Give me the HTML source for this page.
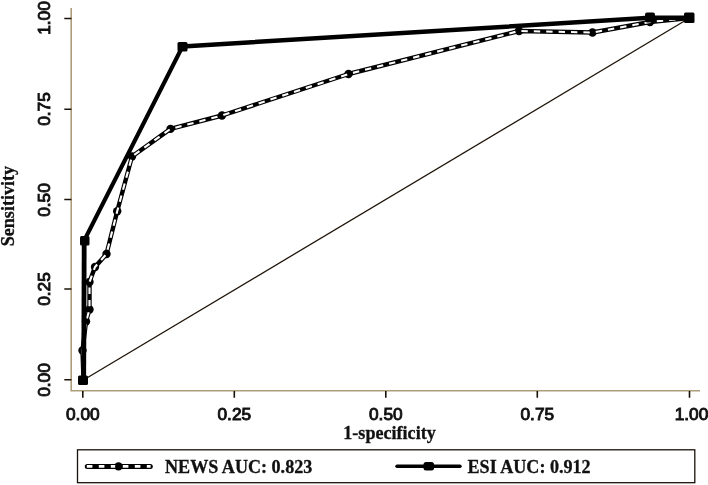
<!DOCTYPE html>
<html><head><meta charset="utf-8">
<style>
html,body{margin:0;padding:0;background:#fff;}
body{width:708px;height:485px;overflow:hidden;}
svg{display:block;}
.tick{font-family:"Liberation Sans",sans-serif;font-size:17.3px;fill:#111;stroke:#111;stroke-width:0.95px;}
.lab{font-family:"Liberation Serif",serif;font-weight:bold;font-size:18.1px;fill:#111;stroke:#111;stroke-width:0.3px;}
.leg{font-family:"Liberation Serif",serif;font-weight:bold;font-size:18.1px;fill:#111;stroke:#111;stroke-width:0.3px;}
</style></head><body>
<svg width="708" height="485" viewBox="0 0 708 485">
<rect width="708" height="485" fill="#fff"/>
<!-- axes -->
<g stroke="#ad9d7b" stroke-width="1.6" fill="none">
<path d="M71.2 8V390.7H700"/>
</g>
<g stroke="#1a1208" stroke-width="1.6">
<path d="M64.3 18.5H71.4M64.3 109.3H71.4M64.3 199.5H71.4M64.3 289H71.4M64.3 379.8H71.4"/>
<path d="M82.8 391V397.8M234.3 391V397.8M385.8 391V397.8M537.3 391V397.8M689.5 391V397.8"/>
</g>
<!-- diagonal -->
<path d="M83.5 380L689.5 18" stroke="#1e1408" stroke-width="1.3" fill="none"/>
<!-- NEWS -->
<g fill="none" stroke-linejoin="round" stroke-linecap="butt">
<path id="news" d="M83.5 380L82.5 350.5L86 321.5L89.5 309.5L89.5 282L95 267L106.5 254L117.2 211.3L132 156.5L170.5 128.9L222 115.5L348.5 74L519 31L592.5 32.5L650 22L689 18" stroke="#000" stroke-width="4.4"/>
<g fill="#000" stroke="none">
<circle cx="82.5" cy="350.5" r="4.2"/><circle cx="86" cy="321.5" r="4.2"/><circle cx="89.5" cy="309.5" r="4.2"/><circle cx="89.5" cy="282" r="4.2"/><circle cx="95" cy="267" r="4.2"/><circle cx="106.5" cy="254" r="4.2"/><circle cx="117.2" cy="211.3" r="4.2"/><circle cx="132" cy="156.5" r="4.2"/><circle cx="170.5" cy="128.9" r="4.2"/><circle cx="222" cy="115.5" r="4.2"/><circle cx="348.5" cy="74" r="4.2"/><circle cx="519" cy="31" r="4.2"/><circle cx="592.5" cy="32.5" r="4.2"/><circle cx="650" cy="22" r="4.2"/>
</g>
<path d="M83.5 380L82.5 350.5L86 321.5L89.5 309.5L89.5 282L95 267L106.5 254L117.2 211.3L132 156.5L170.5 128.9L222 115.5L348.5 74L519 31L592.5 32.5L650 22L689 18" stroke="#fff" stroke-width="2.1" stroke-dasharray="6.4 6"/>
</g>
<!-- ESI -->
<path d="M83.7 380L84.2 240.5" stroke="#000" stroke-width="4.8" fill="none"/>
<path d="M84.2 240.5L182.5 46.5" stroke="#000" stroke-width="4.1" fill="none" stroke-linecap="round"/>
<path d="M182.5 46.5L650 17.8L689.5 17.7" stroke="#000" stroke-width="4.5" fill="none" stroke-linejoin="round"/>
<g fill="#000">
<rect x="78" y="375.5" width="10" height="9.5" rx="1.5"/>
<rect x="80" y="236" width="9.5" height="9.5" rx="1.5"/>
<rect x="177.5" y="42" width="10" height="9.5" rx="1.5"/>
<rect x="645" y="12.5" width="10" height="10" rx="2"/>
<rect x="684" y="12.5" width="10.5" height="10.5" rx="1.5"/>
</g>
<!-- tick labels -->
<g class="tick" text-anchor="middle">
<text x="82.8" y="420.4">0.00</text>
<text x="234.3" y="420.4">0.25</text>
<text x="385.8" y="420.4">0.50</text>
<text x="537.3" y="420.4">0.75</text>
<text x="689.5" y="420.4" text-anchor="end" transform="translate(18.8 0)">1.00</text>
<text transform="translate(50.3 18) rotate(-90)">1.00</text>
<text transform="translate(50.3 109) rotate(-90)">0.75</text>
<text transform="translate(50.3 200) rotate(-90)">0.50</text>
<text transform="translate(50.3 289) rotate(-90)">0.25</text>
<text transform="translate(50.3 380) rotate(-90)">0.00</text>
</g>
<text class="lab" x="343.3" y="438.6">1-specificity</text>
<text class="lab" transform="translate(13.5 246.3) rotate(-90)">Sensitivity</text>
<!-- legend -->
<rect x="77.5" y="449.8" width="617.3" height="32.9" fill="#fff" stroke="#1a120a" stroke-width="1.3"/>
<path d="M87.3 466.4H150.3" stroke="#000" stroke-width="5" stroke-linecap="round"/>
<circle cx="118.5" cy="466.4" r="4.2" fill="#000"/>
<path d="M86.8 466.4H150.6" stroke="#fff" stroke-width="2.6" stroke-dasharray="5.6 6.4"/>
<circle cx="118.5" cy="466.4" r="3.4" fill="#000"/>
<text class="leg" x="165" y="472.8">NEWS AUC: 0.823</text>
<path d="M397 466.2H460" stroke="#000" stroke-width="3.4" stroke-linecap="round"/>
<rect x="423.5" y="462" width="10.5" height="8.5" rx="2.5" fill="#000"/>
<text class="leg" x="467.5" y="472.8">ESI AUC: 0.912</text>
</svg>
</body></html>
